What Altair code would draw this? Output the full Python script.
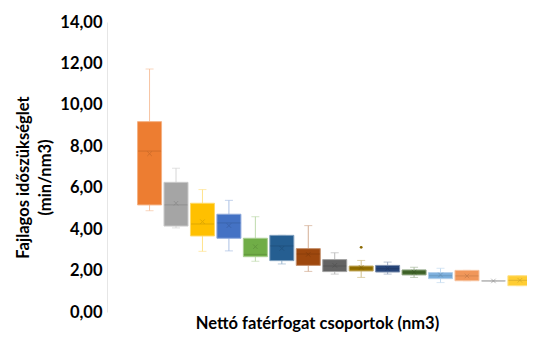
import altair as alt
import pandas as pd

groups = list(range(1, 16))
mins  = [4.89, 4.06, 2.93, 2.95, 2.45, 2.32, 1.96, 1.83, 1.67, 1.83, 1.67, 1.42, 1.51, 1.48, 1.27]
q1s   = [5.17, 4.15, 3.67, 3.56, 2.67, 2.48, 2.25, 1.95, 1.98, 1.93, 1.79, 1.61, 1.51, 1.49, 1.27]
meds  = [7.77, 5.17, 4.25, 4.30, 2.78, 3.19, 2.80, 2.22, 2.12, 2.09, 1.92, 1.75, 1.74, 1.50, 1.53]
q3s   = [9.19, 6.26, 5.25, 4.72, 3.56, 3.70, 3.06, 2.53, 2.22, 2.25, 2.03, 1.90, 2.01, 1.51, 1.75]
maxs  = [11.73, 6.94, 5.91, 5.39, 4.60, 3.70, 4.17, 2.86, 2.49, 2.41, 2.16, 2.11, 2.01, 1.52, 1.75]
means = [7.64, 5.25, 4.36, 4.17, 3.15, 3.07, 2.78, 2.25, 2.15, 2.10, 1.92, 1.79, 1.74, 1.50, 1.53]
outlier_group = [9]
outlier_value = [3.12]
colors = ["#ED7D31", "#A5A5A5", "#FFC000", "#4472C4", "#70AD47", "#255E91", "#9E480E",
          "#636363", "#997300", "#264478", "#43682B", "#7CAFDD", "#F1975A", "#B7B7B7", "#FFCD33"]
y_ticks = [0, 2, 4, 6, 8, 10, 12, 14]


def mix(hexc, other, t):
    h = hexc.lstrip("#")
    o = other.lstrip("#")
    c = [int(h[i:i + 2], 16) for i in (0, 2, 4)]
    d = [int(o[i:i + 2], 16) for i in (0, 2, 4)]
    r = [round(a + (b - a) * t) for a, b in zip(c, d)]
    return "#%02x%02x%02x" % tuple(r)


df = pd.DataFrame({
    "g": groups, "min": mins, "q1": q1s, "med": meds, "q3": q3s, "max": maxs, "mean": means,
    "fill": colors,
    "edge": [mix(c, "#ffffff", 0.4) for c in colors],
    "whisk": [mix(c, "#ffffff", 0.55) for c in colors],
    "dark": [mix(c, "#000000", 0.2) for c in colors],
})
out_df = pd.DataFrame({"g": outlier_group, "v": outlier_value,
                       "dark": [mix(colors[i - 1], "#000000", 0.1) for i in outlier_group]})

font = "Lato"
xscale = alt.Scale(domain=[-0.42, 15.08], nice=False, zero=False)
yscale = alt.Scale(domain=[0, 14], nice=False)

x = alt.X("g:Q", scale=xscale,
          axis=alt.Axis(title="Nettó fatérfogat csoportok (nm3)", labels=False, ticks=False,
                        domain=False, grid=False, titleFont=font, titleFontSize=16.5,
                        titleFontWeight="bold", titleColor="#000000", titleY=11,
                        titleBaseline="middle"))
y = alt.Y("min:Q", scale=yscale,
          axis=alt.Axis(title=["Fajlagos időszükséglet", "(min/nm3)"], values=y_ticks,
                        labelExpr="replace(format(datum.value, '.2f'), '.', ',')",
                        grid=False, ticks=False, domain=True, domainColor="#e6e6e6",
                        labelFont=font, labelFontSize=16.5, labelFontWeight="bold",
                        labelColor="#000000", labelPadding=5,
                        titleFont=font, titleFontSize=16.5, titleFontWeight="bold",
                        titleColor="#000000", titleX=-84, titleY=155, titleLineHeight=22,
                        titleBaseline="middle", titleAngle=270))

base = alt.Chart(df)

whisker = base.mark_rule(strokeWidth=1).encode(
    x=x, y=y, y2="max:Q", color=alt.Color("whisk:N", scale=None))
cap_lo = base.mark_tick(orient="horizontal", size=8, thickness=1).encode(
    x="g:Q", y="min:Q", color=alt.Color("whisk:N", scale=None))
cap_hi = base.mark_tick(orient="horizontal", size=8, thickness=1).encode(
    x="g:Q", y="max:Q", color=alt.Color("whisk:N", scale=None))
box = base.mark_bar(orient="vertical", size=24, strokeWidth=1, clip=True).encode(
    x="g:Q", y="q1:Q", y2="q3:Q",
    color=alt.Color("fill:N", scale=None), stroke=alt.Stroke("edge:N", scale=None))
median = base.mark_tick(orient="horizontal", size=23, thickness=1, opacity=0.6, clip=True).encode(
    x="g:Q", y="med:Q", color=alt.Color("dark:N", scale=None))
mean = base.mark_point(shape="M-1,-1L1,1M-1,1L1,-1", size=20, filled=False, strokeWidth=1,
                       opacity=0.6).encode(
    x="g:Q", y="mean:Q", color=alt.Color("dark:N", scale=None))
outl = alt.Chart(out_df).mark_point(shape="circle", size=8, filled=True, opacity=1).encode(
    x="g:Q", y="v:Q", color=alt.Color("dark:N", scale=None))

chart = alt.layer(whisker, cap_lo, cap_hi, box, median, mean, outl).properties(
    width=420, height=290,
    autosize=alt.AutoSizeParams(type="none"),
    padding={"left": 99, "top": 14, "right": 0, "bottom": 21},
).configure_view(stroke=None)

chart.save("out.html", embed_options={"renderer": "svg", "actions": False})
